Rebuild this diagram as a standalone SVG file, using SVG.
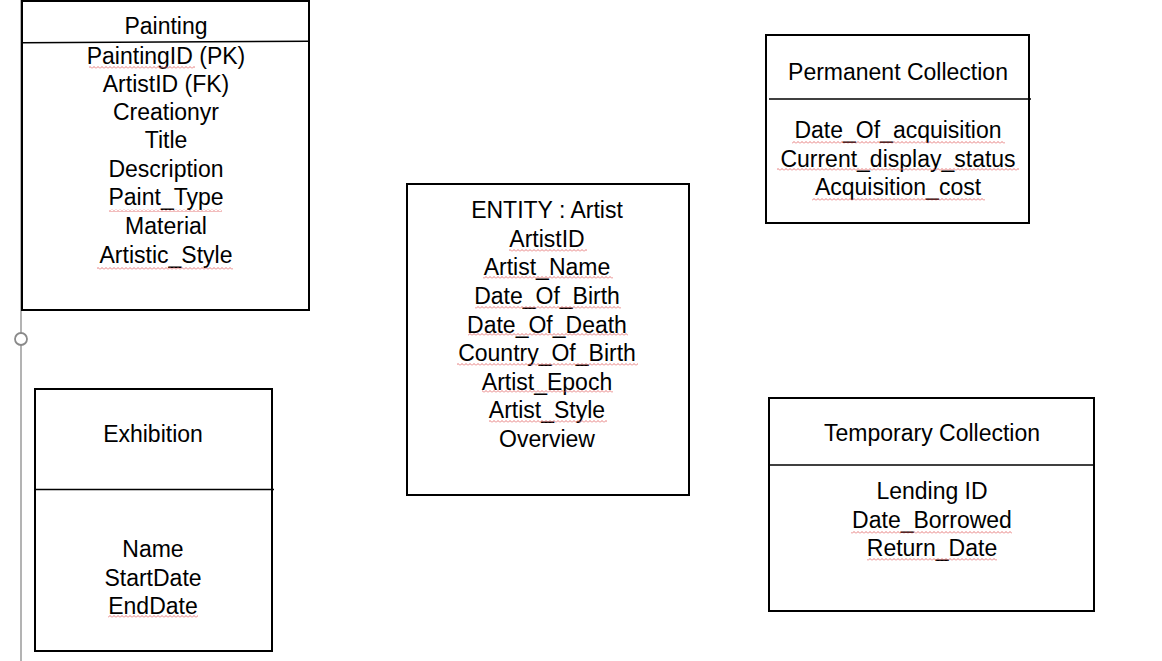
<svg xmlns="http://www.w3.org/2000/svg" width="1162" height="661" viewBox="0 0 1162 661">
<style>
.box{fill:#fff;stroke:#000;stroke-width:2}
.div{stroke:#000;stroke-width:1.5}
text{font-family:"Liberation Sans",Arial,sans-serif;font-size:23px;fill:#000;text-anchor:middle}
.sq{fill:url(#sq)}
</style>
<defs>
<pattern id="sq" patternUnits="userSpaceOnUse" width="4" height="3">
<path d="M0,2.5 L2,0.5 L4,2.5" fill="none" stroke="#e05a5a" stroke-width="0.8"/>
</pattern>
</defs>
<rect width="1162" height="661" fill="#fff"/>
<g id="guide">
<line x1="21" y1="0" x2="21" y2="661" stroke="#9a9a9a" stroke-width="1.5"/>
<circle cx="21" cy="339" r="6" fill="#fff" stroke="#8a8a8a" stroke-width="1.8"/>
</g>
<g id="painting">
<rect class="box" x="22" y="1" width="287" height="309"/>
<line class="div" x1="22" y1="42.7" x2="309" y2="41.3"/>
<text x="166" y="34">Painting</text>
<text x="166" y="64">PaintingID (PK)</text>
<text x="166" y="92">ArtistID (FK)</text>
<text x="166" y="120">Creationyr</text>
<text x="166" y="148">Title</text>
<text x="166" y="177">Description</text>
<text x="166" y="205">Paint_Type</text>
<text x="166" y="234">Material</text>
<text x="166" y="263">Artistic_Style</text>
</g>
<g id="exhibition">
<rect class="box" x="35" y="389" width="237" height="262"/>
<line class="div" x1="35" y1="489.5" x2="274" y2="489.5"/>
<text x="153" y="442">Exhibition</text>
<text x="153" y="557">Name</text>
<text x="153" y="586">StartDate</text>
<text x="153" y="614">EndDate</text>
</g>
<g id="artist">
<rect class="box" x="407" y="184" width="282" height="311"/>
<text x="547" y="218">ENTITY : Artist</text>
<text x="547" y="247">ArtistID</text>
<text x="547" y="275">Artist_Name</text>
<text x="547" y="304">Date_Of_Birth</text>
<text x="547" y="333">Date_Of_Death</text>
<text x="547" y="361">Country_Of_Birth</text>
<text x="547" y="390">Artist_Epoch</text>
<text x="547" y="418">Artist_Style</text>
<text x="547" y="447">Overview</text>
</g>
<g id="permanent">
<rect class="box" x="766" y="35" width="263" height="188"/>
<line class="div" x1="769" y1="99" x2="1031" y2="99"/>
<text x="898" y="80">Permanent Collection</text>
<text x="898" y="138">Date_Of_acquisition</text>
<text x="898" y="167">Current_display_status</text>
<text x="898" y="195">Acquisition_cost</text>
</g>
<g id="temporary">
<rect class="box" x="769" y="398" width="325" height="213"/>
<line class="div" x1="769" y1="465" x2="1094" y2="465"/>
<text x="932" y="441">Temporary Collection</text>
<text x="932" y="499">Lending ID</text>
<text x="932" y="528">Date_Borrowed</text>
<text x="932" y="556">Return_Date</text>
</g>
<g id="connectors"></g>
<g id="spellcheck">
<rect class="sq" x="89" y="66" width="106" height="3"/>
<rect class="sq" x="109" y="209" width="113" height="3"/>
<rect class="sq" x="97" y="267" width="136" height="3"/>
<rect class="sq" x="108" y="615" width="90" height="3"/>
<rect class="sq" x="509" y="249" width="78" height="3"/>
<rect class="sq" x="483" y="276" width="130" height="3"/>
<rect class="sq" x="475" y="306" width="146" height="3"/>
<rect class="sq" x="468" y="333" width="160" height="3"/>
<rect class="sq" x="457" y="363" width="181" height="3"/>
<rect class="sq" x="482" y="390" width="131" height="3"/>
<rect class="sq" x="489" y="420" width="118" height="3"/>
<rect class="sq" x="792" y="141" width="213" height="3"/>
<rect class="sq" x="777" y="168" width="242" height="3"/>
<rect class="sq" x="812" y="198" width="173" height="3"/>
<rect class="sq" x="851" y="531" width="161" height="3"/>
<rect class="sq" x="867" y="558" width="130" height="3"/>
</g>
</svg>
